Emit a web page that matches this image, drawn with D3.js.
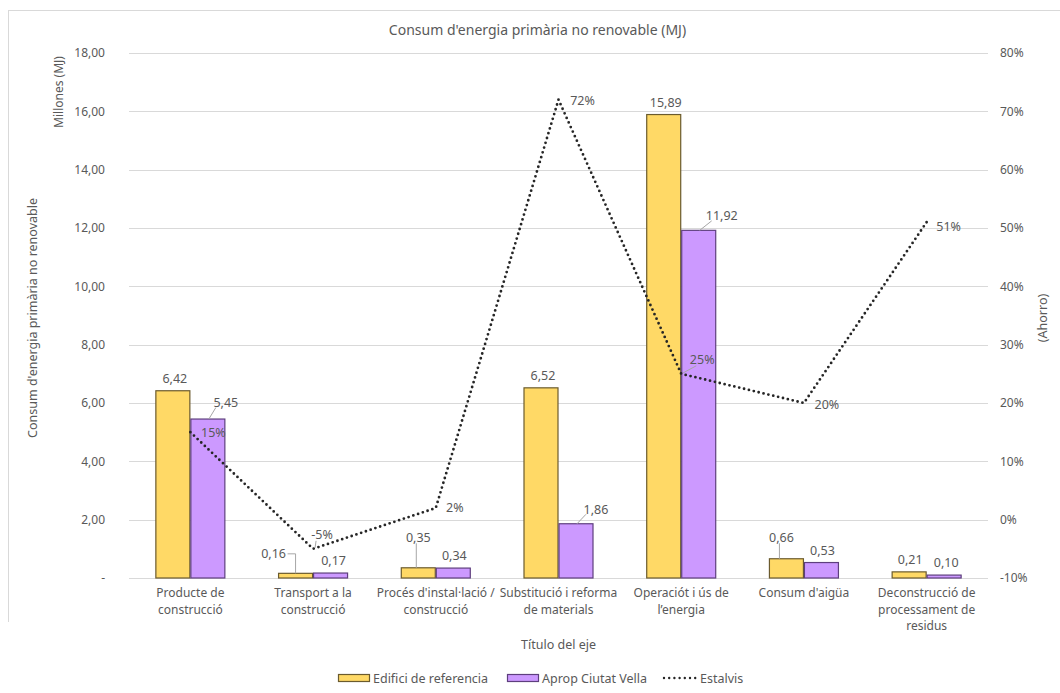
<!DOCTYPE html>
<html><head><meta charset="utf-8">
<script src="https://cdn.jsdelivr.net/npm/d3@7"></script>
<style>
body{margin:0;background:#fff;}
text{font-family:"Noto Sans",sans-serif;fill:#595959;}
</style></head>
<body><svg id="chart" width="1060" height="693"></svg>
<script>
// ---- data ----
const categories = ["Producte de\nconstrucció","Transport a la\nconstrucció","Procés d'instal·lació /\nconstrucció","Substitució i reforma\nde materials","Operaciót i ús de\nl’energia","Consum d'aigüa","Deconstrucció de\nprocessament de\nresidus"];
const seriesNames = ["Edifici de referencia","Aprop Ciutat Vella","Estalvis"];
const edifici = [6.42, 0.16, 0.35, 6.52, 15.89, 0.66, 0.21];
const aprop = [5.45, 0.17, 0.34, 1.86, 11.92, 0.53, 0.10];
const estalvis = [0.15, -0.05, 0.02, 0.72, 0.25, 0.20, 0.51];
const leftTicks = [0,2,4,6,8,10,12,14,16,18];
const rightTicks = [-0.1,0,0.1,0.2,0.3,0.4,0.5,0.6,0.7,0.8];

// ---- label layout nudges (px) ----
const edLabelOff = [[2,0],[-22,-7],[0,-18],[2,0],[2,0],[-5,-9],[1,0]];
const apLabelOff = [[18,-4],[3,0],[1,0],[20,-2],[23,-2],[1,0],[2,0]];
const lnLabelOff = [[23,0],[9,-14],[19,-1],[24,1],[21,-14],[23,1],[22,4]];

const svg = d3.select("#chart");
const W = 1060, H = 693;
const m = {l:129, r:988, t:53, b:578};
const colEd = "#FFD966", colEdS = "#6B5B2E";
const colAp = "#CC99FF", colApS = "#5E3F7E";
const grid = "#D9D9D9";

const loc = d3.formatLocale({decimal:",", thousands:".", grouping:[3], currency:["","€"], minus:"-"});
const f2 = loc.format(".2f");
const fp = loc.format(".0%");

// chart border
svg.append("line").attr("x1",8).attr("x2",W).attr("y1",10.5).attr("y2",10.5).attr("stroke",grid);
svg.append("line").attr("x1",8.5).attr("x2",8.5).attr("y1",10).attr("y2",622).attr("stroke",grid);

const x = d3.scaleBand().domain(categories).range([m.l,m.r]).padding(0);
const bw = 35;
const xs = d3.scaleBand().domain(seriesNames.slice(0,2)).range([x.bandwidth()/2-bw, x.bandwidth()/2+bw]);
const y = d3.scaleLinear().domain([0,18]).range([m.b,m.t]);
const y2 = d3.scaleLinear().domain([-0.1,0.8]).range([m.b,m.t]);

// gridlines
svg.append("g").selectAll("line").data(leftTicks).join("line")
  .attr("x1",m.l).attr("x2",m.r).attr("y1",d=>Math.round(y(d))+0.5).attr("y2",d=>Math.round(y(d))+0.5)
  .attr("stroke",grid).attr("stroke-width",1);

// left axis
const ya = d3.axisLeft(y).tickValues(leftTicks).tickSize(0).tickPadding(0).tickFormat(d=>d===0?"-":f2(d));
const gL = svg.append("g").attr("transform","translate(105,0)").call(ya);
gL.select(".domain").remove();
gL.selectAll("text").style("font-size","12px").style("font-family","Noto Sans").attr("fill","#595959");

// right axis
const ya2 = d3.axisRight(y2).tickValues(rightTicks).tickSize(0).tickPadding(0).tickFormat(fp);
const gR = svg.append("g").attr("transform","translate(1000,0)").call(ya2);
gR.select(".domain").remove();
gR.selectAll("text").style("font-size","12px").style("font-family","Noto Sans").attr("fill","#595959");

// bars
const barG = svg.append("g");
const sets = [{name:seriesNames[0],vals:edifici,fill:colEd,stroke:colEdS,off:edLabelOff},
              {name:seriesNames[1],vals:aprop,fill:colAp,stroke:colApS,off:apLabelOff}];
sets.forEach(s=>{
  barG.selectAll(null).data(s.vals).join("rect")
    .attr("x",(d,i)=>x(categories[i])+xs(s.name)+0.5)
    .attr("y",d=>y(d))
    .attr("width",xs.bandwidth()-1)
    .attr("height",d=>m.b-y(d))
    .attr("fill",s.fill).attr("stroke",s.stroke).attr("stroke-width",1.2);
});

// line
const cx = i=>x(categories[i])+x.bandwidth()/2;
const line = d3.line().x((d,i)=>cx(i)).y(d=>y2(d));
svg.append("path").datum(estalvis).attr("d",line).attr("fill","none")
  .attr("stroke","#262626").attr("stroke-width",2.8).attr("stroke-linecap","round")
  .attr("stroke-dasharray","0,5");

// bar labels
const labG = svg.append("g").style("font-size","12.5px");
sets.forEach(s=>{
  s.vals.forEach((v,i)=>{
    const bx = x(categories[i])+xs(s.name)+xs.bandwidth()/2;
    const by = y(v);
    const [dx,dy] = s.off[i];
    const lx = bx+dx, ly = by-12.5+dy;
    if (Math.abs(dx)>8 || dy<-5){
      let pts;
      if (dx<-8){ pts=[[lx+14,ly],[bx,ly],[bx,by]]; }
      else if (dx>8){ pts=[[bx+1,by],[lx-10,ly+5]]; }
      else { pts=[[lx-2,ly+6],[lx-2,by]]; }
      labG.append("path").attr("d",d3.line()(pts)).attr("fill","none").attr("stroke","#A6A6A6").attr("stroke-width",1);
    }
    labG.append("text").attr("x",lx).attr("y",ly+4.5).attr("text-anchor","middle").text(f2(v));
  });
});

// line labels
estalvis.forEach((v,i)=>{
  const px = cx(i), py = y2(v);
  const [dx,dy] = lnLabelOff[i];
  if (dy<-8){
    labG.append("path").attr("d",d3.line()([[px+2,py-1],[px+dx-6,py+dy+6]])).attr("stroke","#A6A6A6").attr("fill","none");
  }
  labG.append("text").attr("x",px+dx).attr("y",py+dy+4.5).attr("text-anchor","middle").text(fp(v));
});

// category labels
const catG = svg.append("g").style("font-size","12px");
categories.forEach((c,i)=>{
  const t = catG.append("text").attr("text-anchor","middle").attr("x",cx(i)).attr("y",597);
  c.split("\n").forEach((ln,j)=>{
    t.append("tspan").attr("x",cx(i)).attr("dy",j===0?0:16.5).text(ln);
  });
});

// titles
svg.append("text").attr("x",(m.l+m.r)/2-21).attr("y",35).attr("text-anchor","middle").style("font-size","14px").text("Consum d'energia primària no renovable (MJ)");
svg.append("text").attr("x",(m.l+m.r)/2).attr("y",649).attr("text-anchor","middle").style("font-size","12.5px").text("Título del eje");
svg.append("text").attr("transform","translate(63,92) rotate(-90)").attr("text-anchor","middle").style("font-size","12px").text("Millones (MJ)");
svg.append("text").attr("transform","translate(37,318) rotate(-90)").attr("text-anchor","middle").style("font-size","12.5px").text("Consum d'energia primària no renovable");
svg.append("text").attr("transform","translate(1047,318) rotate(-90)").attr("text-anchor","middle").style("font-size","12.5px").text("(Ahorro)");

// legend
const lg = svg.append("g").style("font-size","12.5px");
const legendItems = [
  {name:seriesNames[0], x:338, type:"bar", fill:colEd, stroke:colEdS},
  {name:seriesNames[1], x:507, type:"bar", fill:colAp, stroke:colApS},
  {name:seriesNames[2], x:662, type:"line"}
];
legendItems.forEach(it=>{
  if (it.type==="bar"){
    lg.append("rect").attr("x",it.x+0.5).attr("y",674.5).attr("width",31).attr("height",7).attr("fill",it.fill).attr("stroke",it.stroke).attr("stroke-width",1.2);
    lg.append("text").attr("x",it.x+35).attr("y",682.5).text(it.name);
  } else {
    lg.append("line").attr("x1",it.x+2).attr("x2",it.x+34).attr("y1",678).attr("y2",678)
      .attr("stroke","#262626").attr("stroke-width",2.4).attr("stroke-linecap","round").attr("stroke-dasharray","0,5.2");
    lg.append("text").attr("x",it.x+38).attr("y",682.5).text(it.name);
  }
});
</script></body></html>
